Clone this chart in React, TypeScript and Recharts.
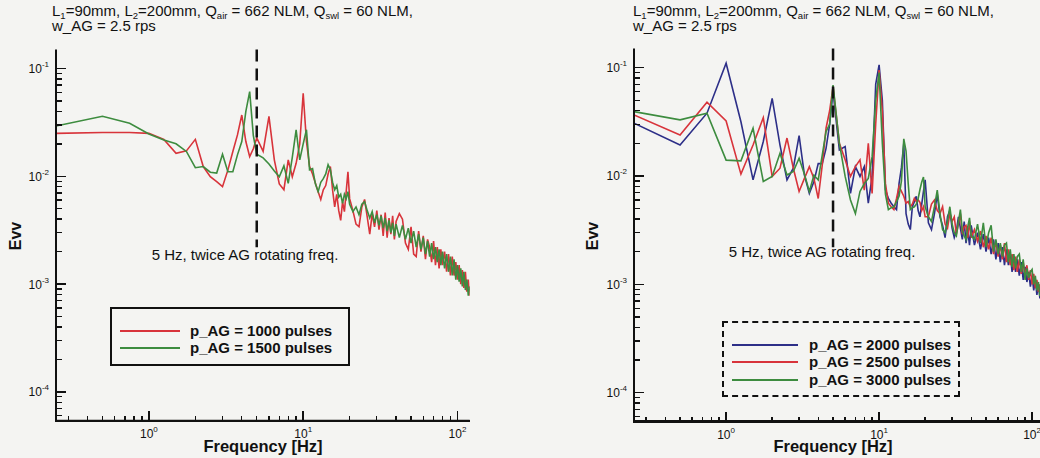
import { LineChart, Line, XAxis, YAxis, ReferenceLine } from "recharts";

const FONT = '"Liberation Sans", Arial, Helvetica, sans-serif';
const INK = "#111";

// frequency grid [Hz]
const freqs = [
  0.25, 0.5, 0.75, 1, 1.25, 1.5, 1.75, 2, 2.25, 2.5, 2.75, 3, 3.25, 3.5, 3.75, 4, 4.25, 4.5, 4.75, 5,
  5.5, 6, 6.5, 7, 7.5, 8, 8.5, 9, 9.5, 10,
  10.5, 11, 11.5, 12, 12.5, 13, 13.5, 14, 14.5, 15, 15.5, 16, 16.5, 17, 17.5, 18, 18.5, 19, 19.5, 20,
  21, 22, 23, 24, 25, 26, 27, 28, 29, 30, 31, 32, 33, 34, 35, 36, 37, 38, 39, 40,
  42, 44, 46, 48, 50, 52, 54, 56, 58, 60, 62, 64, 66, 68, 70, 72, 74, 76, 78, 80,
  82.5, 85, 87.5, 90, 92.5, 95, 97.5, 100, 102.5, 105, 107.5, 110, 112.5, 115, 117.5, 120,
];

// left panel: p_AG = 1000 / 1500 pulses
const evv1000 = [
  0.025, 0.0255, 0.0255, 0.025, 0.022, 0.0163, 0.0172, 0.022, 0.0123, 0.0099, 0.0089, 0.008, 0.0114, 0.017, 0.0242, 0.037, 0.021, 0.0152, 0.018, 0.0227,
  0.017, 0.036, 0.0142, 0.0085, 0.0075, 0.0142, 0.0099, 0.0132, 0.02, 0.059,
  0.021, 0.0123, 0.0105, 0.0086, 0.0072, 0.0061, 0.0075, 0.0082, 0.0105, 0.0123, 0.0075, 0.0052, 0.0068, 0.0048, 0.0039, 0.0058, 0.0047, 0.0072, 0.011, 0.0062,
  0.0048, 0.0036, 0.0034, 0.0052, 0.0061, 0.0042, 0.0029, 0.0045, 0.0034, 0.0048, 0.0032, 0.0044, 0.0028, 0.0046, 0.0027, 0.0041, 0.0029, 0.0043, 0.0026, 0.0038,
  0.0045, 0.004, 0.0024, 0.0021, 0.0034, 0.0019, 0.0018, 0.0031, 0.002, 0.0028, 0.0017, 0.0026, 0.0022, 0.0016, 0.0025, 0.0015, 0.0022, 0.0014, 0.0021, 0.0015,
  0.002, 0.0013, 0.0019, 0.0012, 0.0018, 0.0012, 0.0016, 0.0011, 0.0015, 0.001, 0.00135, 0.00092, 0.0013, 0.00085, 0.0011, 0.00078,
];
const evv1500 = [
  0.0293, 0.036, 0.031, 0.0247, 0.0217, 0.02, 0.017, 0.012, 0.0123, 0.0109, 0.0107, 0.016, 0.011, 0.011, 0.0158, 0.021, 0.04, 0.061, 0.024, 0.016,
  0.0148, 0.013, 0.0112, 0.0099, 0.0125, 0.0086, 0.015, 0.027, 0.0142, 0.02,
  0.027, 0.0115, 0.0118, 0.0085, 0.0072, 0.0088, 0.0095, 0.0105, 0.0128, 0.0115, 0.0088, 0.0075, 0.0082, 0.0064, 0.0068, 0.0056, 0.0068, 0.0062, 0.0072, 0.0055,
  0.0047, 0.0052, 0.0044, 0.0055, 0.0058, 0.0048, 0.0041, 0.0047, 0.0037, 0.0044, 0.0035, 0.0043, 0.0033, 0.0041, 0.0031, 0.0039, 0.003, 0.0037, 0.0028, 0.0036,
  0.0027, 0.0035, 0.0026, 0.0033, 0.0024, 0.0031, 0.0022, 0.0029, 0.0021, 0.0027, 0.0019, 0.0025, 0.0018, 0.0024, 0.0017, 0.0022, 0.0016, 0.0021, 0.0015, 0.002,
  0.0014, 0.0019, 0.0013, 0.0018, 0.0012, 0.0017, 0.0011, 0.0015, 0.00105, 0.0014, 0.00095, 0.0013, 0.00088, 0.0011, 0.00078, 0.00095,
];

// right panel: p_AG = 2000 / 2500 / 3000 pulses
const evv2000 = [
  0.0307, 0.0193, 0.038, 0.11, 0.0317, 0.0092, 0.0208, 0.052, 0.0193, 0.0092, 0.0118, 0.0236, 0.0102, 0.0069, 0.0089, 0.013, 0.013, 0.018, 0.03, 0.06,
  0.0174, 0.0187, 0.0069, 0.0122, 0.0099, 0.0122, 0.0056, 0.0099, 0.07, 0.106,
  0.05, 0.0075, 0.0062, 0.0056, 0.0052, 0.0049, 0.0085, 0.012, 0.02, 0.0045, 0.0036, 0.0032, 0.0052, 0.0058, 0.0065, 0.0048, 0.0042, 0.0055, 0.0072, 0.0092,
  0.0037, 0.0032, 0.0045, 0.0068, 0.0042, 0.0035, 0.0027, 0.0042, 0.0048, 0.0033, 0.0027, 0.0031, 0.0042, 0.0033, 0.0026, 0.0038, 0.0024, 0.0031, 0.0023, 0.0035,
  0.0023, 0.003, 0.0021, 0.0029, 0.002, 0.0027, 0.0019, 0.0026, 0.0017, 0.0024, 0.0016, 0.0022, 0.0015, 0.0021, 0.0015, 0.0019, 0.0013, 0.0018, 0.0013, 0.0017,
  0.0012, 0.0016, 0.0011, 0.00145, 0.00105, 0.0013, 0.00095, 0.0012, 0.00088, 0.0011, 0.0008, 0.001, 0.00074, 0.0009, 0.0007, 0.00085,
];
const evv2500 = [
  0.0366, 0.0239, 0.048, 0.0322, 0.0104, 0.0193, 0.0345, 0.0099, 0.0118, 0.0224, 0.0118, 0.0072, 0.0095, 0.0122, 0.0095, 0.0062, 0.0126, 0.0276, 0.04, 0.067,
  0.02, 0.0141, 0.0099, 0.0122, 0.0141, 0.0074, 0.02, 0.0069, 0.03, 0.095,
  0.04, 0.0085, 0.0056, 0.0052, 0.0049, 0.0062, 0.008, 0.0072, 0.0065, 0.0056, 0.0058, 0.0052, 0.0055, 0.0062, 0.0058, 0.006, 0.0057, 0.0048, 0.0052, 0.0042,
  0.0042, 0.0055, 0.006, 0.0048, 0.0045, 0.0052, 0.0036, 0.0033, 0.0045, 0.0038, 0.0042, 0.0029, 0.0036, 0.0045, 0.0029, 0.0034, 0.0035, 0.0027, 0.0038, 0.0027,
  0.0032, 0.0025, 0.0031, 0.0022, 0.0028, 0.0021, 0.0027, 0.0019, 0.0025, 0.0018, 0.0023, 0.0017, 0.0024, 0.0016, 0.0021, 0.0015, 0.0019, 0.00135, 0.0018, 0.0013,
  0.0017, 0.00125, 0.0016, 0.0012, 0.0015, 0.0011, 0.00135, 0.001, 0.00125, 0.00092, 0.0011, 0.00085, 0.001, 0.00078, 0.0009, 0.00072,
];
const evv3000 = [
  0.0393, 0.033, 0.038, 0.014, 0.0138, 0.0276, 0.0089, 0.0099, 0.0162, 0.0102, 0.011, 0.0146, 0.0104, 0.0072, 0.0102, 0.0092, 0.0156, 0.0257, 0.03, 0.069,
  0.02, 0.0099, 0.006, 0.0045, 0.0072, 0.0085, 0.0095, 0.015, 0.05, 0.09,
  0.02, 0.0068, 0.0049, 0.0051, 0.0052, 0.0058, 0.0065, 0.009, 0.022, 0.017, 0.0085, 0.0049, 0.0051, 0.0052, 0.0055, 0.0062, 0.0075, 0.0088, 0.0098, 0.0052,
  0.0042, 0.0038, 0.0052, 0.0074, 0.0045, 0.0032, 0.003, 0.0038, 0.0052, 0.0036, 0.003, 0.0028, 0.0038, 0.0049, 0.0031, 0.0028, 0.0026, 0.0034, 0.0041, 0.0028,
  0.0026, 0.0036, 0.0024, 0.0037, 0.0022, 0.003, 0.0035, 0.002, 0.0026, 0.0019, 0.0024, 0.0018, 0.0023, 0.0024, 0.0016, 0.0021, 0.00145, 0.0019, 0.0014, 0.0018,
  0.0019, 0.0013, 0.0017, 0.0011, 0.0014, 0.00115, 0.0013, 0.00137, 0.001, 0.0012, 0.00088, 0.00105, 0.00078, 0.0009, 0.00072, 0.0008,
];

const xTicks = [
  0.3, 0.4, 0.5, 0.6, 0.7, 0.8, 0.9, 1, 2, 3, 4, 5, 6, 7, 8, 9, 10, 20, 30, 40, 50, 60, 70, 80, 90, 100,
];
const yTicks = [
  6e-5, 7e-5, 8e-5, 9e-5, 1e-4, 2e-4, 3e-4, 4e-4, 5e-4, 6e-4, 7e-4, 8e-4, 9e-4,
  1e-3, 2e-3, 3e-3, 4e-3, 5e-3, 6e-3, 7e-3, 8e-3, 9e-3,
  1e-2, 2e-2, 3e-2, 4e-2, 5e-2, 6e-2, 7e-2, 8e-2, 9e-2, 1e-1,
];
const xMajor = [1, 10, 100];
const yMajor = [1e-4, 1e-3, 1e-2, 1e-1];

const X_DOMAIN = [0.25, 120];
const Y_DOMAIN = [5.4e-5, 0.15];
const MARK_FREQ = 5;
const MARK_BOTTOM = 0.0022;

const RED = "#d8343b";
const GREEN = "#3d8c3f";
const BLUE = "#2d2f88";

const leftData = freqs.map((f, i) => ({ f, p1000: evv1000[i], p1500: evv1500[i] }));
const rightData = freqs.map((f, i) => ({ f, p2000: evv2000[i], p2500: evv2500[i], p3000: evv3000[i] }));

const expOf = (v: number) => String(Math.round(Math.log10(v)));

function makeXTick(bottom: number) {
  return (props: any) => {
    const { x, payload } = props;
    const v = payload.value;
    if (!xMajor.includes(v)) return <g />;
    return (
      <text x={x} y={bottom + 17} textAnchor="middle" fontSize={12} fontFamily={FONT} fill={INK}>
        10
        <tspan fontSize={8} dy={-6}>
          {expOf(v)}
        </tspan>
      </text>
    );
  };
}

function makeYTick(left: number) {
  return (props: any) => {
    const { y, payload } = props;
    const v = payload.value;
    if (!yMajor.includes(v)) return <g />;
    return (
      <text x={left - 7} y={y + 4.5} textAnchor="end" fontSize={12} fontFamily={FONT} fill={INK}>
        10
        <tspan fontSize={8} dy={-6}>
          {expOf(v)}
        </tspan>
      </text>
    );
  };
}

type Plot = { top: number; right: number; bottom: number; left: number };

// same log mapping the chart uses for its plot box, for the axis frame overlay
const xPos = (p: Plot, f: number) =>
  p.left + (Math.log10(f / X_DOMAIN[0]) / Math.log10(X_DOMAIN[1] / X_DOMAIN[0])) * (p.right - p.left);
const yPos = (p: Plot, v: number) =>
  p.top + (Math.log10(Y_DOMAIN[1] / v) / Math.log10(Y_DOMAIN[1] / Y_DOMAIN[0])) * (p.bottom - p.top);

function AxisFrame({ plot }: { plot: Plot }) {
  const bar = (left: number, top: number, width: number, height: number, key: string) => (
    <div key={key} style={{ position: "absolute", left, top, width, height, background: INK }} />
  );
  return (
    <div style={{ position: "absolute", left: 0, top: 0, width: "100%", height: "100%", pointerEvents: "none" }}>
      {bar(plot.left - 1, plot.top, 2.4, plot.bottom - plot.top + 1, "yaxis")}
      {bar(plot.left - 1, plot.bottom - 1.2, plot.right - plot.left + 1, 2.4, "xaxis")}
      {yTicks.map((v) => {
        const len = yMajor.includes(v) ? 10 : 6;
        return bar(plot.left, yPos(plot, v) - 0.7, len, 1.4, `y${v}`);
      })}
      {xTicks.map((v) => {
        const len = xMajor.includes(v) ? 10 : 5;
        return bar(xPos(plot, v) - 0.7, plot.bottom - len, 1.4, len, `x${v}`);
      })}
    </div>
  );
}

interface PanelProps {
  left: number;
  width: number;
  plot: Plot;
  data: any[];
  series: { key: string; color: string }[];
}

function Panel({ left, width, plot, data, series }: PanelProps) {
  const height = 458;
  const margin = {
    top: plot.top,
    right: width - plot.right,
    bottom: height - plot.bottom - 1,
    left: plot.left - 1,
  };
  return (
    <div style={{ position: "absolute", left, top: 0, width, height }}>
      <LineChart width={width} height={height} data={data} margin={margin}>
        <XAxis
          type="number"
          dataKey="f"
          scale="log"
          domain={X_DOMAIN}
          allowDataOverflow
          ticks={xTicks}
          interval={0}
          height={1}
          tickLine={false}
          axisLine={{ stroke: INK, strokeWidth: 2 }}
          tick={makeXTick(plot.bottom)}
        />
        <YAxis
          type="number"
          scale="log"
          domain={Y_DOMAIN}
          allowDataOverflow
          ticks={yTicks}
          interval={0}
          width={1}
          tickLine={false}
          axisLine={{ stroke: INK, strokeWidth: 2 }}
          tick={makeYTick(plot.left)}
        />
        {series.map((s) => (
          <Line
            key={s.key}
            type="linear"
            dataKey={s.key}
            stroke={s.color}
            strokeWidth={1.6}
            dot={false}
            isAnimationActive={false}
          />
        ))}
        <ReferenceLine
          segment={[
            { x: MARK_FREQ, y: Y_DOMAIN[1] },
            { x: MARK_FREQ, y: MARK_BOTTOM },
          ]}
          stroke={INK}
          strokeWidth={2.5}
          strokeDasharray="12 7"
        />
      </LineChart>
      <AxisFrame plot={plot} />
    </div>
  );
}

const sub = (t: string) => (
  <span style={{ fontSize: 9.5, position: "relative", top: 3 }}>{t}</span>
);

function Title({ x }: { x: number }) {
  return (
    <div
      style={{
        position: "absolute",
        left: x,
        top: 4,
        fontFamily: FONT,
        fontSize: 15,
        lineHeight: "13px",
        color: INK,
        whiteSpace: "nowrap",
      }}
    >
      L{sub("1")}=90mm, L{sub("2")}=200mm, Q{sub("air")} = 662 NLM, Q{sub("swl")} = 60 NLM,
      <br />
      w_AG = 2.5 rps
    </div>
  );
}

function Note({ cx, top }: { cx: number; top: number }) {
  return (
    <div
      style={{
        position: "absolute",
        left: cx - 150,
        width: 300,
        top,
        textAlign: "center",
        fontFamily: FONT,
        fontSize: 15,
        lineHeight: "18px",
        color: INK,
      }}
    >
      5 Hz, twice AG rotating freq.
    </div>
  );
}

function AxisTitles({ ycx, xcx }: { ycx: number; xcx: number }) {
  return (
    <>
      <div
        style={{
          position: "absolute",
          left: ycx - 30,
          top: 236 - 10,
          width: 60,
          height: 20,
          lineHeight: "20px",
          textAlign: "center",
          transform: "rotate(-90deg)",
          fontFamily: FONT,
          fontWeight: "bold",
          fontSize: 16,
          color: INK,
        }}
      >
        Evv
      </div>
      <div
        style={{
          position: "absolute",
          left: xcx - 100,
          width: 200,
          top: 436,
          textAlign: "center",
          fontFamily: FONT,
          fontWeight: "bold",
          fontSize: 16.5,
          lineHeight: "20px",
          color: INK,
        }}
      >
        Frequency [Hz]
      </div>
    </>
  );
}

interface LegendBoxProps {
  x: number;
  y: number;
  w: number;
  h: number;
  dashed?: boolean;
  rows: number[];
  lineX: [number, number];
  textX: number;
  items: { color: string; label: string }[];
}

function LegendBox({ x, y, w, h, dashed, rows, lineX, textX, items }: LegendBoxProps) {
  return (
    <div
      style={{
        position: "absolute",
        left: x,
        top: y,
        width: w,
        height: h,
        boxSizing: "border-box",
        border: `2px ${dashed ? "dashed" : "solid"} ${INK}`,
      }}
    >
      {items.map((it, i) => (
        <div key={it.label}>
          <div
            style={{
              position: "absolute",
              left: lineX[0] - 2,
              width: lineX[1] - lineX[0],
              top: rows[i] - 3,
              height: 2,
              background: it.color,
            }}
          />
          <div
            style={{
              position: "absolute",
              left: textX - 2,
              top: rows[i] - 11,
              lineHeight: "18px",
              fontFamily: FONT,
              fontWeight: "bold",
              fontSize: 15,
              color: INK,
              whiteSpace: "nowrap",
            }}
          >
            {it.label}
          </div>
        </div>
      ))}
    </div>
  );
}

export default function App() {
  return (
    <div
      style={{
        position: "fixed",
        left: 0,
        top: 0,
        width: 1040,
        height: 458,
        overflow: "hidden",
        background: "#f4f4f2",
      }}
    >
      <Panel
        left={0}
        width={520}
        plot={{ top: 49.5, right: 469.7, bottom: 420.7, left: 56 }}
        data={leftData}
        series={[
          { key: "p1000", color: RED },
          { key: "p1500", color: GREEN },
        ]}
      />
      <Panel
        left={560}
        width={500}
        plot={{ top: 48.6, right: 484.2, bottom: 421.6, left: 74 }}
        data={rightData}
        series={[
          { key: "p2000", color: BLUE },
          { key: "p2500", color: RED },
          { key: "p3000", color: GREEN },
        ]}
      />

      <Title x={52} />
      <Title x={633} />
      <Note cx={245} top={246} />
      <Note cx={822} top={243} />
      <AxisTitles ycx={16} xcx={263} />
      <AxisTitles ycx={593} xcx={833} />

      <LegendBox
        x={110}
        y={307}
        w={240}
        h={59}
        rows={[24, 41]}
        lineX={[10, 70]}
        textX={80}
        items={[
          { color: RED, label: "p_AG = 1000 pulses" },
          { color: GREEN, label: "p_AG = 1500 pulses" },
        ]}
      />
      <LegendBox
        x={722}
        y={321}
        w={238}
        h={76}
        dashed
        rows={[24, 41, 59]}
        lineX={[10, 76]}
        textX={87}
        items={[
          { color: BLUE, label: "p_AG = 2000 pulses" },
          { color: RED, label: "p_AG = 2500 pulses" },
          { color: GREEN, label: "p_AG = 3000 pulses" },
        ]}
      />
    </div>
  );
}
